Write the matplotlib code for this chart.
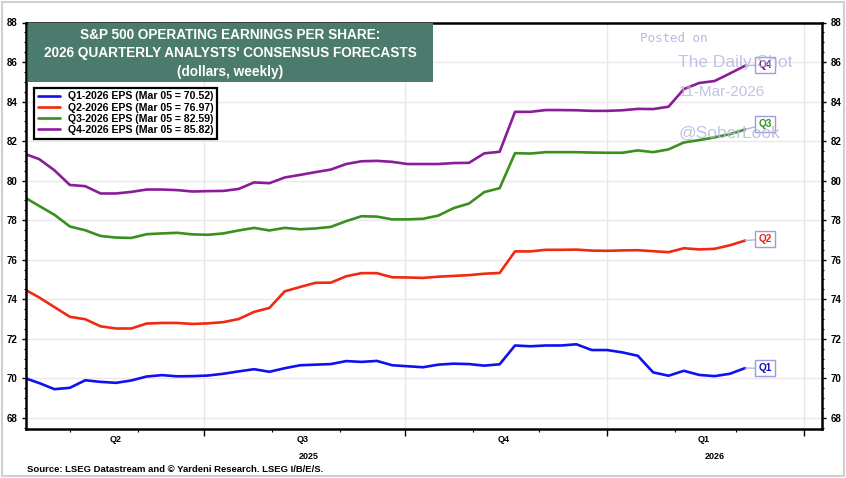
import datetime as dt
import matplotlib
matplotlib.use("Agg")
import matplotlib.pyplot as plt
import matplotlib.dates as mdates
from matplotlib.patches import Rectangle
from matplotlib.ticker import MultipleLocator

plt.rcParams['font.family'] = ['Liberation Sans', 'DejaVu Sans']

# weekly data, Thursdays from 10-Apr-2025 to 05-Mar-2026
start = dt.date(2025, 4, 10)
dates = [start + dt.timedelta(days=7 * i) for i in range(48)]

q1_eps = [70.03, 69.76, 69.45, 69.52, 69.90, 69.82, 69.77, 69.89, 70.09, 70.16,
          70.10, 70.11, 70.14, 70.23, 70.35, 70.46, 70.33, 70.51, 70.66, 70.69,
          70.72, 70.87, 70.83, 70.88, 70.66, 70.61, 70.56, 70.69, 70.74, 70.72,
          70.64, 70.71, 71.66, 71.62, 71.66, 71.66, 71.72, 71.43, 71.43, 71.31,
          71.14, 70.30, 70.13, 70.38, 70.17, 70.11, 70.23, 70.52]
q2_eps = [74.52, 74.09, 73.60, 73.11, 72.99, 72.63, 72.52, 72.52, 72.77, 72.80,
          72.80, 72.75, 72.78, 72.84, 73.00, 73.36, 73.56, 74.40, 74.62, 74.83,
          74.84, 75.16, 75.32, 75.32, 75.11, 75.10, 75.08, 75.14, 75.18, 75.22,
          75.29, 75.33, 76.42, 76.42, 76.50, 76.50, 76.51, 76.46, 76.45, 76.47,
          76.48, 76.43, 76.38, 76.58, 76.52, 76.55, 76.73, 76.97]
q3_eps = [79.18, 78.72, 78.27, 77.68, 77.49, 77.20, 77.12, 77.10, 77.29, 77.33,
          77.36, 77.28, 77.26, 77.33, 77.48, 77.61, 77.48, 77.61, 77.54, 77.58,
          77.66, 77.95, 78.20, 78.18, 78.04, 78.04, 78.07, 78.23, 78.61, 78.84,
          79.42, 79.62, 81.39, 81.37, 81.44, 81.44, 81.44, 81.42, 81.41, 81.41,
          81.53, 81.44, 81.58, 81.93, 82.05, 82.19, 82.35, 82.59]
q4_eps = [81.37, 81.09, 80.52, 79.78, 79.72, 79.35, 79.35, 79.43, 79.55, 79.55,
          79.52, 79.45, 79.47, 79.48, 79.58, 79.91, 79.87, 80.16, 80.29, 80.43,
          80.56, 80.84, 80.98, 81.00, 80.95, 80.84, 80.84, 80.84, 80.89, 80.90,
          81.38, 81.46, 83.48, 83.48, 83.57, 83.57, 83.56, 83.53, 83.53, 83.56,
          83.63, 83.62, 83.74, 84.63, 84.94, 85.04, 85.42, 85.82]

names = ['Q1', 'Q2', 'Q3', 'Q4']
legend_labels = ['Q1-2026 EPS (Mar 05 = 70.52)', 'Q2-2026 EPS (Mar 05 = 76.97)',
                 'Q3-2026 EPS (Mar 05 = 82.59)', 'Q4-2026 EPS (Mar 05 = 85.82)']
colors = ['#1010f0', '#f02a10', '#38901e', '#8a1c9a']
label_colors = ['#1010c0', '#e02a10', '#38901e', '#70106e']
series = [q1_eps, q2_eps, q3_eps, q4_eps]

fig = plt.figure(figsize=(8.46, 4.78), dpi=100)
ax = fig.add_axes([26 / 846, 1 - 429.3 / 478, 796 / 846, 406.8 / 478])

for vals, col, lab in zip(series, colors, legend_labels):
    ax.plot(dates, vals, color=col, lw=1.9, label=lab, solid_capstyle='round')

ax.set_ylim(67.42, 88)
ax.set_xlim(dt.date(2025, 4, 11), dt.date(2026, 4, 9))

# axes look
for s in ax.spines.values():
    s.set_linewidth(1.8)
    s.set_color('black')
ax.yaxis.set_major_locator(MultipleLocator(2))
ax.yaxis.set_minor_locator(MultipleLocator(0.5))
ax.tick_params(axis='y', which='both', left=True, right=True, labelleft=True,
               labelright=True, direction='out', labelsize=7, pad=3)
ax.tick_params(axis='y', which='major', length=3, width=1)
ax.tick_params(axis='y', which='minor', length=1.5, width=0.8)
for t in ax.get_yticklabels():
    t.set_fontweight('bold')

ax.xaxis.set_major_locator(mdates.MonthLocator(bymonth=[1, 4, 7, 10]))
ax.xaxis.set_minor_locator(mdates.MonthLocator())
ax.xaxis.set_major_formatter(plt.NullFormatter())
ax.tick_params(axis='x', which='major', direction='out', length=5, width=1)
ax.tick_params(axis='x', which='minor', direction='out', length=2.5, width=0.8)

ax.grid(True, which='major', color='#ece6ec', lw=1.0)
ax.set_axisbelow(True)

# quarter and year labels under the axis
xt = ax.get_xaxis_transform()
quarter_pos = [dt.date(2025, 5, 22), dt.date(2025, 8, 15), dt.date(2025, 11, 15), dt.date(2026, 2, 14)]
quarter_txt = ['Q2', 'Q3', 'Q4', 'Q1']
for d, q in zip(quarter_pos, quarter_txt):
    ax.text(d, -0.026, q, transform=xt, ha='center', va='center', fontsize=6.5, fontweight='bold')
ax.text(dt.date(2025, 8, 18), -0.067, '2025', transform=xt, ha='center', va='center',
        fontsize=6.5, fontweight='bold')
ax.text(dt.date(2026, 2, 19), -0.067, '2026', transform=xt, ha='center', va='center',
        fontsize=6.5, fontweight='bold')

# end labels Q1..Q4
box_y = [70.50, 77.04, 82.86, 85.85]
for vals, nm, lc, by in zip(series, names, label_colors, box_y):
    ax.annotate(nm, xy=(dates[-1], vals[-1]), xytext=(dt.date(2026, 3, 14), by),
                ha='center', va='center', fontsize=7.3, fontweight='bold', color=lc,
                bbox=dict(boxstyle='square,pad=0.3', fc='white', ec='#9c9ce0', lw=1),
                arrowprops=dict(arrowstyle='-', color='#b4b4e4', lw=1, shrinkA=0, shrinkB=0))

# legend
leg = ax.legend(loc='upper left', bbox_to_anchor=(0.004, 0.853), fancybox=False,
                edgecolor='black', framealpha=1, handlelength=2.1, handletextpad=0.7,
                borderpad=0.35, labelspacing=0.12, prop={'size': 7.6, 'weight': 'bold'})
leg.get_frame().set_linewidth(1.6)

# title box
fig.patches.append(Rectangle((28 / 846, 1 - 82 / 478), 405 / 846, 59 / 478,
                             transform=fig.transFigure, fc='#4b7b6d', ec='none', zorder=5))
title_lines = ["S&P 500 OPERATING EARNINGS PER SHARE:",
               "2026 QUARTERLY ANALYSTS' CONSENSUS FORECASTS",
               "(dollars, weekly)"]
for k, line in enumerate(title_lines):
    fig.text(230.5 / 846, 1 - (35 + 18.5 * k) / 478, line, ha='center', va='center',
             color='white', fontsize=9.8, fontweight='bold', zorder=6)

# watermark
wm = '#b8b8e2'
fig.text(674 / 846, 1 - 39 / 478, 'Posted on', ha='center', va='center', color=wm,
         fontsize=9, family='DejaVu Sans Mono', zorder=7)
fig.text(735 / 846, 1 - 63 / 478, 'The Daily Shot', ha='center', va='center', color=wm,
         fontsize=12.5, alpha=0.85, zorder=7)
fig.text(722 / 846, 1 - 92 / 478, '11-Mar-2026', ha='center', va='center', color=wm,
         fontsize=11, alpha=0.85, zorder=7)
fig.text(730 / 846, 1 - 133 / 478, '@SoberLook', ha='center', va='center', color=wm,
         fontsize=12.5, alpha=0.85, zorder=7)

# source
fig.text(27 / 846, 1 - 469 / 478, 'Source: LSEG Datastream and \u00a9 Yardeni Research. LSEG I/B/E/S.',
         ha='left', va='center', fontsize=6.8, fontweight='bold')

# outer frame
fig.patches.append(Rectangle((2 / 846, 2 / 478), 842 / 846, 474 / 478, transform=fig.transFigure,
                             fc='none', ec='#d0d0d0', lw=1.5))

fig.savefig('out.png', dpi=100)
